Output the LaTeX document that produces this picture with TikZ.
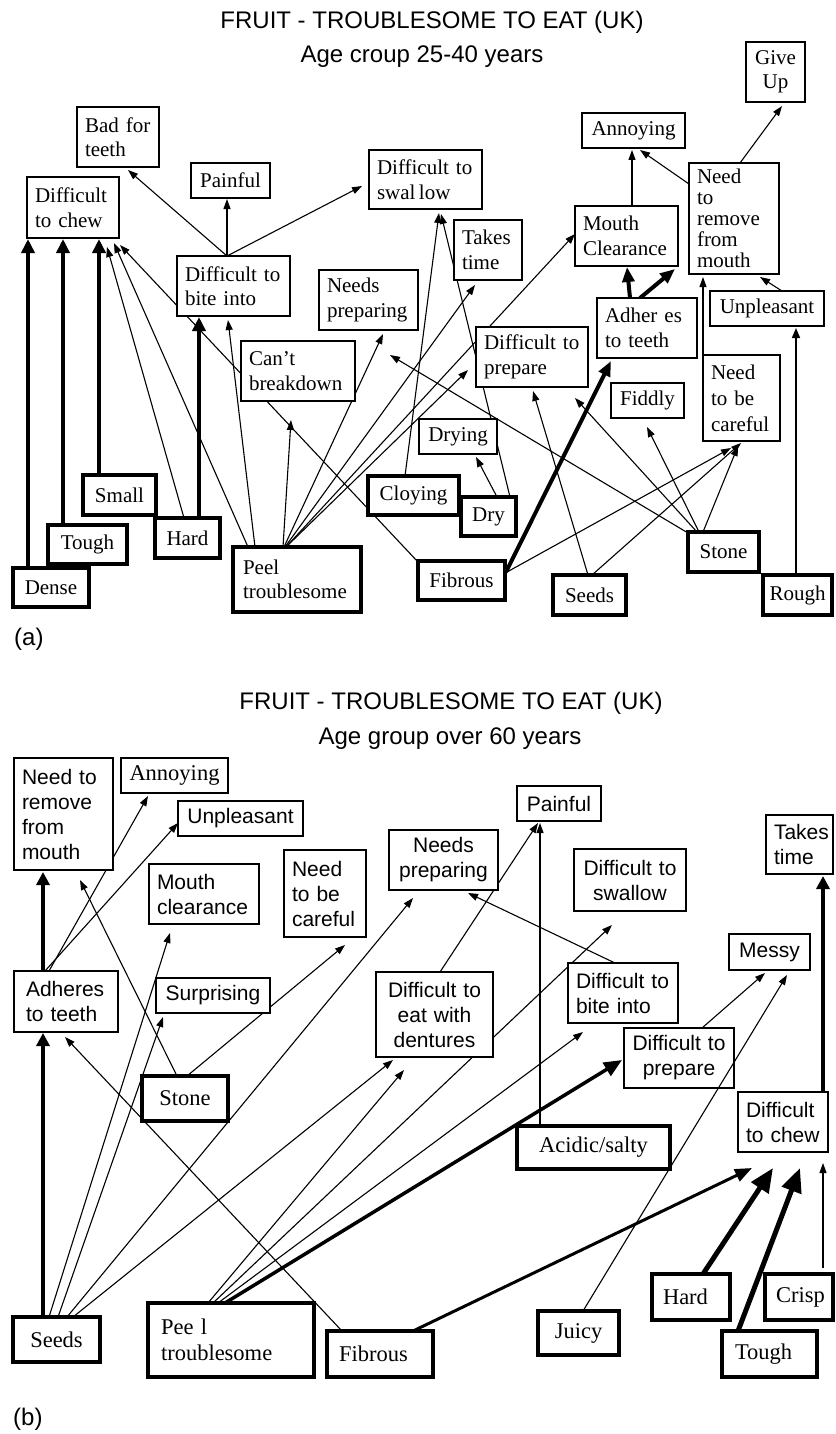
\documentclass[tikz,border=0pt]{standalone}
\usepackage{fontspec}
\setmainfont{Liberation Serif}
\newfontfamily\sansfam{Liberation Sans}
\usetikzlibrary{arrows.meta}
\pgfdeclarelayer{paper}
\pgfdeclarelayer{links}
\pgfsetlayers{paper,links,main}

% \bx[pad]{name}{x1}{y1}{x2}{y2}{style}{text}: framed box given by its corners
\newcommand\bx[8][8]{%
  \pgfmathsetmacro\bxw{#5-#3}%
  \pgfmathsetmacro\bxh{#6-#4}%
  \pgfmathsetmacro\bxt{#5-#3-2*#1}%
  \node[box,minimum width=\bxw pt,minimum height=\bxh pt,text width=\bxt pt,#7] (#2) at (#3,#4) {#8};}

\begin{document}
\begin{tikzpicture}[x=1pt,y=-1pt,
  box/.style={draw,fill=white,anchor=north west,inner sep=0pt,outer sep=0pt,line width=1.2pt,align=left},
  tb/.style={line width=3.5pt},
  mid/.style={align=center},
  se/.style={font=\fontsize{21}{24.5}\selectfont},
  ss/.style={font=\sansfam\fontsize{21}{25}\selectfont},
  sb/.style={font=\fontsize{22.5}{26}\selectfont},
  ttl/.style={font=\sansfam\fontsize{24}{28}\selectfont,inner sep=0pt},
  ln/.style={line width=1.1pt,-{Triangle[length=10pt,width=7pt]}},
  lnm/.style={line width=1.6pt,-{Triangle[length=10pt,width=8pt]}},
  hva/.style={line width=4.5pt,-{Triangle[length=14pt,width=13pt]}},
  hvb/.style={line width=4pt,-{Triangle[length=15pt,width=12pt]}},
  hba/.style={line width=3.5pt,-{Triangle[length=13pt,width=13pt]}},
  hbb/.style={line width=5pt,-{Triangle[length=24pt,width=20pt]}},
  hbc/.style={line width=3.5pt,-{Triangle[length=18pt,width=15pt]}},
  hbd/.style={line width=3pt,-{Triangle[length=17pt,width=13pt]}}]

\begin{pgfonlayer}{paper}
  \fill[white] (0,0) rectangle (835,1434);
\end{pgfonlayer}
\useasboundingbox (0,0) rectangle (835,1434);

% ---------------- headings ----------------
\node[ttl,anchor=base] (tA) at (432,28.5) {FRUIT - TROUBLESOME TO EAT (UK)};
\node[ttl,anchor=base] (sA) at (422,63) {Age croup 25-40 years};
\node[ttl,anchor=base west] (la) at (14,645) {(a)};
\node[ttl,anchor=base] (tB) at (451,709) {FRUIT - TROUBLESOME TO EAT (UK)};
\node[ttl,anchor=base] (sB) at (450,744) {Age group over 60 years};
\node[ttl,anchor=base west] (lb) at (13,1425) {(b)};

% ---------------- panel (a) boxes ----------------
\bx{bad}{77}{107}{159}{167}{se}{Bad for\\teeth}
\bx{chewA}{27}{177}{119}{238}{se}{Difficult\\to chew}
\bx{painA}{191}{163}{270}{198}{se,mid}{Painful}
\bx{biteA}{177}{256}{290}{316}{se}{Difficult to\\bite into}
\bx{swalA}{369}{150}{482}{209}{se}{Difficult to\\swal\,low}
\bx{takesA}{454}{220}{522}{280}{se}{Takes\\time}
\bx{needsprepA}{319}{270}{418}{330}{se}{Needs\\preparing}
\bx{cantA}{241}{341}{355}{401}{se}{Can’t\\breakdown}
\bx{prepA}{476}{327}{588}{387}{se}{Difficult to\\prepare}
\bx{giveA}{746}{42}{805}{102}{se,mid}{Give\\Up}
\bx{annA}{582}{113}{685}{148}{se,mid}{Annoying}
\bx{mouthA}{575}{206}{678}{266}{se}{Mouth\\Clearance}
\bx{removeA}{689}{163}{779}{274}{se,font=\fontsize{21}{21}\selectfont}{Need\\to\\remove\\from\\mouth}
\bx{unplA}{710}{291}{824}{326}{se,mid}{Unpleasant}
\bx{adhA}{597}{298}{697}{358}{se}{Adher es\\to teeth}
\bx{carefulA}{703}{355}{780}{441}{se,font=\fontsize{21}{26}\selectfont}{Need\\to be\\careful}
\bx{fiddlyA}{611}{383}{684}{418}{se,mid}{Fiddly}
\bx{dryingA}{419}{419}{497}{454}{se,mid}{Drying}
\bx{cloyA}{368}{476}{459}{515}{se,mid,tb}{Cloying}
\bx{dryA}{461}{497}{516}{536}{se,mid,tb}{Dry}
\bx{fibA}{418}{561}{505}{600}{se,mid,tb}{Fibrous}
\bx{seedsA}{553}{575}{626}{615}{se,mid,tb}{Seeds}
\bx{stoneA}{688}{532}{759}{572}{se,mid,tb}{Stone}
\bx[5]{roughA}{763}{575}{832}{615}{se,mid,tb}{Rough}
\bx{smallA}{83}{475}{156}{515}{se,mid,tb}{Small}
\bx{toughA}{48}{525}{127}{564}{se,mid,tb}{Tough}
\bx{denseA}{13}{568}{89}{607}{se,mid,tb}{Dense}
\bx{hardA}{155}{518}{220}{558}{se,mid,tb}{Hard}
\bx[10]{peelA}{233}{547}{361}{612}{se,tb}{Peel\\troublesome}

% ---------------- panel (a) connectors ----------------
\begin{pgfonlayer}{links}
\draw[hva] ([shift={(15,0)}]denseA.north west) -- ([shift={(1,62)}]chewA.north west);
\draw[hva] ([shift={(15,0)}]toughA.north west) -- ([shift={(36,62)}]chewA.north west);
\draw[hva] ([shift={(16,0)}]smallA.north west) -- ([shift={(72,62)}]chewA.north west);
\draw[hva] ([shift={(44,0)}]hardA.north west) -- ([shift={(22,61)}]biteA.north west);
\draw[hvb] ([shift={(33,0)}]adhA.north west) -- ([shift={(52,61)}]mouthA.north west);
\draw[hvb] ([shift={(43,0)}]adhA.north west) -- ([shift={(100,63)}]mouthA.north west);
\draw[hvb] ([shift={(88,11)}]fibA.north west) -- ([shift={(14,63)}]adhA.north west);
\draw[ln] ([shift={(29,0)}]hardA.north west) -- ([shift={(80,70)}]chewA.north west);
\draw[ln] ([shift={(15,0)}]peelA.north west) -- ([shift={(87,66)}]chewA.north west);
\draw[ln] ([shift={(0,1)}]fibA.north west) -- ([shift={(93,68)}]chewA.north west);
\draw[ln] ([shift={(22,0)}]peelA.north west) -- ([shift={(51,64)}]biteA.north west);
\draw[ln] ([shift={(50,0)}]biteA.north west) -- ([shift={(51,63)}]bad.north west);
\draw[ln] ([shift={(50,0)}]biteA.north west) -- ([shift={(36,36)}]painA.north west);
\draw[ln] ([shift={(50,0)}]biteA.north west) -- ([shift={(-7,36)}]swalA.north west);
\draw[ln] ([shift={(50,0)}]peelA.north west) -- ([shift={(50,79)}]cantA.north west);
\draw[ln] ([shift={(51,0)}]peelA.north west) -- ([shift={(64,64)}]needsprepA.north west);
\draw[ln] ([shift={(52,0)}]peelA.north west) -- ([shift={(21,65)}]takesA.north west);
\draw[ln] ([shift={(53,0)}]peelA.north west) -- ([shift={(-8,43)}]prepA.north west);
\draw[ln] ([shift={(53,0)}]peelA.north west) -- ([shift={(0,28)}]mouthA.north west);
\draw[ln] ([shift={(37,0)}]cloyA.north west) -- ([shift={(70,63)}]swalA.north west);
\draw[ln] ([shift={(49,0)}]dryA.north west) -- ([shift={(72,64)}]swalA.north west);
\draw[ln] ([shift={(36,0)}]dryA.north west) -- ([shift={(57,38)}]dryingA.north west);
\draw[ln] ([shift={(0,1)}]stoneA.north west) -- ([shift={(71,85)}]needsprepA.north west);
\draw[ln] ([shift={(35,0)}]seedsA.north west) -- ([shift={(57,64)}]prepA.north west);
\draw[ln] ([shift={(89,11)}]fibA.north west) -- ([shift={(28,93)}]carefulA.north west);
\draw[ln] ([shift={(39,0)}]seedsA.north west) -- ([shift={(38,88)}]carefulA.north west);
\draw[ln] ([shift={(15,0)}]stoneA.north west) -- ([shift={(35,91)}]carefulA.north west);
\draw[ln] ([shift={(9,0)}]stoneA.north west) -- ([shift={(99,71)}]prepA.north west);
\draw[ln] ([shift={(11,0)}]stoneA.north west) -- ([shift={(36,44)}]fiddlyA.north west);
\draw[ln] (carefulA.north west) -- ([shift={(14,114)}]removeA.north west);
\draw[lnm] ([shift={(33,0)}]roughA.north west) -- ([shift={(86,37)}]unplA.north west);
\draw[ln] ([shift={(72,0)}]unplA.north west) -- ([shift={(71,114)}]removeA.north west);
\draw[ln] ([shift={(51,0)}]removeA.north west) -- ([shift={(36,64)}]giveA.north west);
\draw[ln] ([shift={(0,21)}]removeA.north west) -- ([shift={(58,37)}]annA.north west);
\draw[ln] ([shift={(57,0)}]mouthA.north west) -- ([shift={(50,37)}]annA.north west);
\end{pgfonlayer}

% ---------------- panel (b) boxes ----------------
\bx{removeB}{14}{758}{113}{870}{ss}{Need to\\remove\\from\\mouth}
\bx{annB}{121}{758}{228}{793}{sb,mid}{Annoying}
\bx{unplB}{178}{801}{303}{836}{ss,mid}{Unpleasant}
\bx{mouthB}{149}{864}{259}{924}{ss}{Mouth\\clearance}
\bx{carefulB}{284}{850}{366}{937}{ss}{Need\\to be\\careful}
\bx[12]{adhB}{14}{971}{118}{1032}{ss}{Adheres\\to teeth}
\bx{surpB}{156}{978}{270}{1013}{ss,mid}{Surprising}
\bx{painB}{517}{786}{601}{821}{ss,mid}{Painful}
\bx{needsprepB}{389}{830}{498}{890}{ss,mid}{Needs\\preparing}
\bx{swalB}{574}{849}{686}{911}{ss,mid}{Difficult to\\swallow}
\bx{takesB}{766}{815}{833}{874}{ss}{Takes\\time}
\bx{messyB}{729}{934}{810}{970}{ss,mid}{Messy}
\bx{biteB}{568}{963}{678}{1023}{ss}{Difficult to\\bite into}
\bx{dentB}{376}{972}{493}{1057}{ss,mid}{Difficult to\\eat with\\dentures}
\bx{prepB}{624}{1028}{734}{1088}{ss,mid}{Difficult to\\prepare}
\bx{chewB}{738}{1092}{828}{1152}{ss}{Difficult\\to chew}
\bx{acidB}{517}{1126}{670}{1169}{sb,mid,tb}{Acidic/salty}
\bx[11]{hardB}{652}{1274}{730}{1320}{sb,tb}{Hard}
\bx[11]{crispB}{765}{1274}{833}{1320}{sb,tb}{Crisp}
\bx[13]{toughB}{722}{1331}{817}{1377}{sb,tb}{Tough}
\bx{juicyB}{538}{1311}{619}{1355}{sb,mid,tb}{Juicy}
\bx[12]{fibB}{327}{1331}{433}{1377}{sb,tb}{Fibrous}
\bx{seedsB}{13}{1317}{100}{1362}{sb,mid,tb}{Seeds}
\bx[13]{peelB}{148}{1303}{314}{1377}{sb,tb}{Pee l\\troublesome}
\bx{stoneB}{142}{1076}{228}{1121}{sb,mid,tb}{Stone}

% ---------------- panel (b) connectors ----------------
\begin{pgfonlayer}{links}
\draw[hba] ([shift={(29,0)}]adhB.north west) -- ([shift={(29,114)}]removeB.north west);
\draw[hba] ([shift={(30,0)}]seedsB.north west) -- ([shift={(29,62)}]adhB.north west);
\draw[ln] ([shift={(35,0)}]adhB.north west) -- ([shift={(27,38)}]annB.north west);
\draw[ln] ([shift={(31,0)}]adhB.north west) -- ([shift={(0,22)}]unplB.north west);
\draw[ln] ([shift={(35,0)}]stoneB.north west) -- ([shift={(66,122)}]removeB.north west);
\draw[ln] ([shift={(45,0)}]stoneB.north west) -- ([shift={(61,95)}]carefulB.north west);
\draw[ln] ([shift={(15,0)}]fibB.north west) -- ([shift={(51,66)}]adhB.north west);
\draw[ln] ([shift={(36,0)}]seedsB.north west) -- ([shift={(21,69)}]mouthB.north west);
\draw[ln] ([shift={(45,0)}]seedsB.north west) -- ([shift={(7,39)}]surpB.north west);
\draw[ln] ([shift={(54,0)}]seedsB.north west) -- ([shift={(24,68)}]needsprepB.north west);
\draw[ln] ([shift={(60,0)}]seedsB.north west) -- ([shift={(17,88)}]dentB.north west);
\draw[ln] ([shift={(60,0)}]peelB.north west) -- ([shift={(28,98)}]dentB.north west);
\draw[ln] ([shift={(65,0)}]peelB.north west) -- ([shift={(38,76)}]swalB.north west);
\draw[ln] ([shift={(70,0)}]peelB.north west) -- ([shift={(15,69)}]biteB.north west);
\draw[hbc] ([shift={(77,0)}]peelB.north west) -- ([shift={(-2,32)}]prepB.north west);
\draw[ln] ([shift={(64,0)}]dentB.north west) -- ([shift={(21,37)}]painB.north west);
\draw[ln] ([shift={(23,0)}]acidB.north west) -- ([shift={(23,37)}]painB.north west);
\draw[ln] ([shift={(47,0)}]biteB.north west) -- ([shift={(79,63)}]needsprepB.north west);
\draw[ln] ([shift={(78,0)}]prepB.north west) -- ([shift={(36,39)}]messyB.north west);
\draw[hba] ([shift={(85,0)}]chewB.north west) -- ([shift={(57,61)}]takesB.north west);
\draw[hbb] ([shift={(51,0)}]hardB.north west) -- ([shift={(35,76)}]chewB.north west);
\draw[hbb] ([shift={(16,0)}]toughB.north west) -- ([shift={(62,76)}]chewB.north west);
\draw[ln] ([shift={(58,-6)}]crispB.north west) -- ([shift={(85,71)}]chewB.north west);
\draw[hbd] ([shift={(86,0)}]fibB.north west) -- ([shift={(14,76)}]chewB.north west);
\end{pgfonlayer}
% this one runs across the corner of the box below Messy
\draw[ln] ([shift={(45,0)}]juicyB.north west) -- ([shift={(58,41)}]messyB.north west);

\end{tikzpicture}
\end{document}
